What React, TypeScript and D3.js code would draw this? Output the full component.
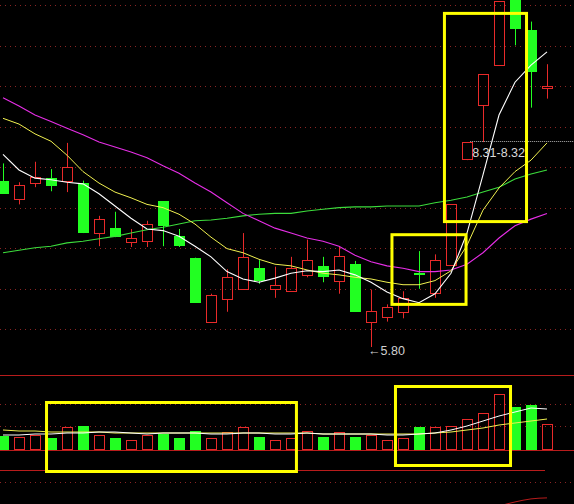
import React from 'react';
import * as d3 from 'd3';

const W = 574;
const H = 504;

// OHLC per trading day (35 candles)
const opens = [7.83, 7.61, 7.80, 7.86, 7.83, 7.80, 7.19, 7.25, 7.08, 7.09, 7.58, 7.15, 6.89, 6.11, 6.39, 6.51, 6.76, 6.51, 6.48, 6.68, 6.79, 6.61, 6.81, 6.11, 6.17, 6.23, 6.70, 6.46, 6.80, 8.09, 8.75, 9.24, 10.10, 9.67, 8.96];
const highs = [8.04, 7.81, 8.06, 7.97, 8.29, 7.83, 7.40, 7.45, 7.24, 7.34, 7.58, 7.24, 6.89, 6.45, 6.75, 7.19, 6.86, 6.78, 6.90, 7.11, 6.90, 7.02, 6.85, 6.50, 6.32, 6.48, 6.97, 6.93, 7.54, 8.30, 9.13, 10.02, 10.10, 9.77, 9.25];
const lows = [7.67, 7.54, 7.75, 7.70, 7.69, 7.19, 7.03, 7.14, 7.02, 7.02, 7.03, 7.02, 6.34, 6.11, 6.23, 6.51, 6.57, 6.40, 6.48, 6.65, 6.59, 6.45, 6.23, 5.80, 6.11, 6.15, 6.51, 6.40, 6.80, 8.08, 8.30, 9.24, 9.48, 8.72, 8.83];
const closes = [7.67, 7.78, 7.87, 7.76, 8.00, 7.19, 7.36, 7.14, 7.13, 7.30, 7.28, 7.03, 6.34, 6.43, 6.65, 6.90, 6.61, 6.56, 6.76, 6.86, 6.65, 6.91, 6.23, 6.24, 6.29, 6.40, 6.68, 6.86, 7.54, 8.30, 9.13, 10.02, 9.68, 9.16, 8.98];

// Moving averages
const ma5 = [8.15, 7.96, 7.86, 7.84, 7.81, 7.79, 7.67, 7.52, 7.37, 7.24, 7.22, 7.15, 7.03, 6.90, 6.72, 6.63, 6.59, 6.64, 6.70, 6.73, 6.72, 6.74, 6.68, 6.59, 6.47, 6.39, 6.34, 6.45, 6.70, 7.19, 7.90, 8.63, 9.03, 9.24, 9.40];
const ma10 = [8.59, 8.52, 8.40, 8.31, 8.14, 7.94, 7.80, 7.69, 7.62, 7.54, 7.50, 7.42, 7.30, 7.14, 7.00, 6.95, 6.87, 6.81, 6.79, 6.74, 6.70, 6.68, 6.65, 6.63, 6.59, 6.56, 6.56, 6.61, 6.73, 7.04, 7.47, 7.74, 7.94, 8.08, 8.29];
const ma20 = [8.84, 8.74, 8.63, 8.55, 8.47, 8.39, 8.30, 8.24, 8.18, 8.11, 8.01, 7.92, 7.80, 7.69, 7.56, 7.43, 7.34, 7.25, 7.19, 7.13, 7.09, 7.03, 6.92, 6.84, 6.79, 6.76, 6.72, 6.72, 6.74, 6.81, 6.95, 7.13, 7.28, 7.36, 7.43];
const ma60 = [6.95, 6.98, 7.01, 7.03, 7.07, 7.09, 7.12, 7.15, 7.19, 7.23, 7.26, 7.30, 7.34, 7.35, 7.37, 7.40, 7.42, 7.43, 7.43, 7.46, 7.48, 7.50, 7.51, 7.51, 7.52, 7.52, 7.52, 7.56, 7.59, 7.63, 7.69, 7.75, 7.85, 7.91, 7.96];

// Volume (arbitrary units) and its averages
const volumes = [14, 13, 15, 12, 23, 24, 15, 12, 10, 15, 16, 12, 19, 12, 18, 23, 13, 10, 12, 19, 13, 18, 13, 15, 10, 12, 23, 23, 24, 31, 37, 56, 43, 45, 26];
const volMa5 = [15, 15, 16, 16, 17, 17, 18, 18, 17, 16, 17, 17, 17, 16, 16, 17, 17, 16, 16, 17, 16, 16, 16, 16, 15, 15, 16, 17, 20, 24, 29, 34, 38, 42, 41];
const volMa10 = [20, 19, 19, 18, 18, 18, 18, 17, 17, 17, 17, 17, 17, 17, 17, 17, 17, 17, 17, 17, 16, 16, 16, 16, 16, 16, 16, 17, 18, 20, 22, 25, 27, 29, 31];

// Lower indicator fragment (last days)
const lowerIdx = [31, 32, 33, 34];
const lowerVals = [-6, 6, 15, 18];

// Annotations
const lowLabel = '←5.80';
const lowIndex = 23;
const lowPrice = 5.80;
const gapLabel = '8.31-8.32';
const gapPrice = 8.31;
const gapStartIndex = 29.2;

// Highlight boxes: [fromIndex, toIndex, top value, bottom value]
const priceBoxes = [
  [27.59, 32.72, 9.87, 7.33],
  [24.31, 28.94, 7.17, 6.32],
];
const volumeBoxes = [
  [2.72, 18.34, 47.5, -21.5],
  [24.53, 31.72, 63.5, -15.5],
];

const RED = '#e82a2a';
const GREEN = '#22ff22';
const GRID = '#8a2424';
const FONT = '"Liberation Sans", Arial, sans-serif';

export default function App() {
  const x = d3.scaleLinear().domain([0, 34]).range([3, 547]);
  const y = d3.scaleLinear().domain([5.80, 8.3132]).range([347, 141]);
  const vy = d3.scaleLinear().domain([0, 75]).range([450, 375]);
  const ly = d3.scaleLinear().domain([0, 100]).range([504, 470]);

  const priceLine = d3.line<number>().x((_, i) => x(i)).y((d) => y(d));
  const volLine = d3.line<number>().x((_, i) => x(i)).y((d) => vy(d));
  const lowerLine = d3
    .line<number>()
    .x((_, i) => x(lowerIdx[i]))
    .y((d) => ly(d))
    .curve(d3.curveMonotoneX);

  const mainGrid = d3.range(9).map((i) => 5 + i * 40.5);
  const volDotted = [404, 426, 482];

  const px = (v: number) => Math.round(v) + 0.5;

  return (
    <svg
      width={W}
      height={H}
      style={{ position: 'absolute', left: 0, top: 0, background: '#000', display: 'block' }}
    >
      <defs>
        <clipPath id="mainClip">
          <rect x={0} y={0} width={W} height={370} />
        </clipPath>
        <clipPath id="lowClip">
          <rect x={0} y={452} width={W} height={52} />
        </clipPath>
      </defs>
      <rect x={0} y={0} width={W} height={H} fill="#000" />

      {/* grid */}
      {mainGrid.map((g, i) => (
        <line key={'g' + i} x1={0} x2={W} y1={px(g)} y2={px(g)} stroke={GRID} strokeDasharray="1,4" />
      ))}
      {volDotted.map((g, i) => (
        <line key={'vg' + i} x1={0} x2={W} y1={px(g)} y2={px(g)} stroke={GRID} strokeDasharray="1,4" />
      ))}
      <line x1={0} x2={W} y1={375.5} y2={375.5} stroke="#b81c1c" />
      <line x1={0} x2={W} y1={450.5} y2={450.5} stroke="#b81c1c" />
      <line x1={0} x2={x(34) - 2} y1={ly(100) + 0.5} y2={ly(100) + 0.5} stroke="#b81c1c" />

      {/* candles */}
      <g clipPath="url(#mainClip)">
        {closes.map((c, i) => {
          const o = opens[i];
          const cx = Math.round(x(i));
          const up = c >= o;
          const top = y(Math.max(o, c));
          const bot = y(Math.min(o, c));
          const hy = y(highs[i]);
          const lyv = y(lows[i]);
          if (up) {
            const t = Math.round(top);
            const b = Math.max(Math.round(bot), t + 1);
            return (
              <g key={'c' + i}>
                {hy < t && <line x1={cx + 0.5} x2={cx + 0.5} y1={hy} y2={t} stroke={RED} />}
                {lyv > b && <line x1={cx + 0.5} x2={cx + 0.5} y1={b + 1} y2={lyv} stroke={RED} />}
                <rect x={cx - 4.5} y={t + 0.5} width={10} height={b - t} fill="none" stroke={RED} />
              </g>
            );
          }
          const t = Math.round(top);
          const b = Math.max(Math.round(bot), t + 2);
          return (
            <g key={'c' + i}>
              <line x1={cx + 0.5} x2={cx + 0.5} y1={hy} y2={lyv} stroke={GREEN} />
              <rect x={cx - 5} y={t} width={11} height={b - t} fill={GREEN} />
            </g>
          );
        })}

        {/* moving averages */}
        <path d={priceLine(ma60) || ''} fill="none" stroke="#3cdc3c" strokeWidth={1.1} />
        <path d={priceLine(ma20) || ''} fill="none" stroke="#e62ee6" strokeWidth={1.1} />
        <path d={priceLine(ma10) || ''} fill="none" stroke="#f0f050" strokeWidth={1} />
        <path d={priceLine(ma5) || ''} fill="none" stroke="#ffffff" strokeWidth={1.1} />
      </g>

      {/* gap annotation */}
      <line
        x1={x(gapStartIndex)}
        x2={W}
        y1={Math.round(y(gapPrice)) + 0.5}
        y2={Math.round(y(gapPrice)) + 0.5}
        stroke="#b0b0b0"
        strokeDasharray="1,1"
      />
      <text x={x(gapStartIndex) + 2} y={y(gapPrice) + 16} fill="#d8d8d8" fontSize={12.5} fontFamily={FONT}>
        {gapLabel}
      </text>

      {/* low annotation */}
      <text x={x(lowIndex) - 3} y={y(lowPrice) + 8} fill="#d0d0d0" fontSize={12.5} fontFamily={FONT}>
        {lowLabel}
      </text>

      {/* volume bars */}
      {volumes.map((v, i) => {
        const cx = Math.round(x(i));
        const up = closes[i] >= opens[i];
        const t = Math.round(vy(v));
        if (up) {
          return (
            <rect key={'v' + i} x={cx - 4.5} y={t + 0.5} width={10} height={450 - t - 1} fill="none" stroke={RED} />
          );
        }
        return <rect key={'v' + i} x={cx - 5} y={t} width={11} height={450 - t} fill={GREEN} />;
      })}
      <path d={volLine(volMa10) || ''} fill="none" stroke="#f0f050" strokeWidth={1} />
      <path d={volLine(volMa5) || ''} fill="none" stroke="#ffffff" strokeWidth={1} />

      {/* lower indicator fragment */}
      <g clipPath="url(#lowClip)">
        <path d={lowerLine(lowerVals) || ''} fill="none" stroke="#b81c1c" strokeWidth={1} />
      </g>

      {/* highlight boxes */}
      {priceBoxes.map((b, i) => (
        <rect
          key={'pb' + i}
          x={x(b[0])}
          y={y(b[2])}
          width={x(b[1]) - x(b[0])}
          height={y(b[3]) - y(b[2])}
          fill="none"
          stroke="#ffff00"
          strokeWidth={3}
        />
      ))}
      {volumeBoxes.map((b, i) => (
        <rect
          key={'vb' + i}
          x={x(b[0])}
          y={vy(b[2])}
          width={x(b[1]) - x(b[0])}
          height={vy(b[3]) - vy(b[2])}
          fill="none"
          stroke="#ffff00"
          strokeWidth={3}
        />
      ))}
    </svg>
  );
}
